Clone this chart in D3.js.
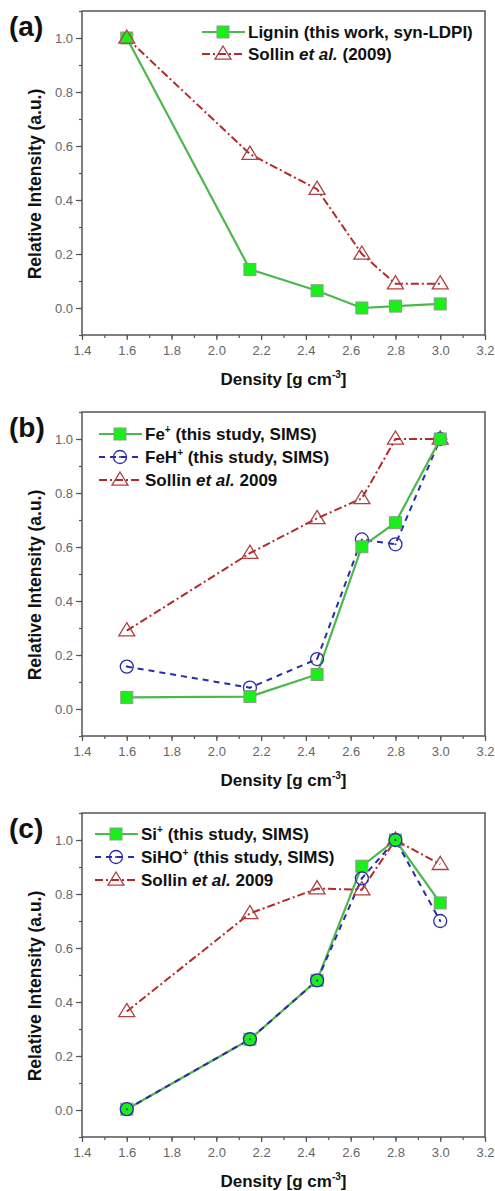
<!DOCTYPE html>
<html><head><meta charset="utf-8">
<script src="https://cdn.jsdelivr.net/npm/d3@7"></script>
<style>body{margin:0;background:#fff;} svg{display:block;font-family:"Liberation Sans",Arial,sans-serif;}</style>
</head><body>
<svg id="c" width="495" height="1191"></svg>
<script>
const density = [1.6, 2.15, 2.45, 2.65, 2.8, 3.0];
const xTicks = [1.4, 1.6, 1.8, 2.0, 2.2, 2.4, 2.6, 2.8, 3.0, 3.2];
const yTicks = [0.0, 0.2, 0.4, 0.6, 0.8, 1.0];

const ligninA = [1.0, 0.143, 0.064, 0.0, 0.007, 0.015];
const sollinA = [1.0, 0.57, 0.44, 0.20, 0.09, 0.09];

const feB = [0.043, 0.046, 0.128, 0.601, 0.69, 1.0];
const fehB = [0.157, 0.079, 0.185, 0.628, 0.61, 1.0];
const sollinB = [0.29, 0.577, 0.706, 0.78, 1.0, 1.0];

const siC = [0.003, 0.262, 0.48, 0.903, 1.0, 0.767];
const sihoC = [0.003, 0.262, 0.48, 0.858, 1.0, 0.70];
const sollinC = [0.365, 0.728, 0.82, 0.816, 1.0, 0.91];

const svg = d3.select("#c");
const GREEN_LINE = "#4cb84c", GREEN_FILL = "#19f019", RED = "#b22a2a", RED_MK = "#b04040", BLUE = "#2b2ba8", AXIS = "#555";

const styles = {
  green: {stroke: GREEN_LINE, dash: null, width: 2.2, marker: "square"},
  blue: {stroke: BLUE, dash: "6,5", width: 2, marker: "circle"},
  red: {stroke: RED, dash: "8,3,2,3", width: 2, marker: "triangle"}
};

function marker(g, type, x, y) {
  if (type === "square") {
    g.append("rect").attr("x", x - 6).attr("y", y - 6).attr("width", 12).attr("height", 12)
      .attr("fill", GREEN_FILL).attr("stroke", "#8a9a8a").attr("stroke-width", 1);
  } else if (type === "circle") {
    g.append("circle").attr("cx", x).attr("cy", y).attr("r", 6.5).attr("fill", "none")
      .attr("stroke", BLUE).attr("stroke-width", 1.3);
    g.append("circle").attr("cx", x).attr("cy", y).attr("r", 1).attr("fill", BLUE);
  } else {
    const s = 8;
    g.append("path").attr("d", `M${x},${y - s}L${x + s},${y + s * 0.65}L${x - s},${y + s * 0.65}Z`)
      .attr("fill", "none").attr("stroke", RED_MK).attr("stroke-width", 1.3);
  }
}

function panel(top, label, series, legend) {
  const left = 82, right = 485, h = 324;
  const x = d3.scaleLinear().domain([1.4, 3.2]).range([left, right]);
  const y = d3.scaleLinear().domain([-0.1, 1.1]).range([top + h, top]);
  const g = svg.append("g");

  const xMinor = d3.range(14, 33).map(v => v / 10);
  const yMinor = d3.range(-1, 12).map(v => v / 10);

  const xa = g.append("g").attr("transform", `translate(0,${top + h})`)
    .call(d3.axisBottom(x).tickValues(xMinor).tickSize(3).tickFormat(""));
  xa.select(".domain").remove();
  xa.selectAll("line").attr("stroke", AXIS).attr("stroke-width", 1.2);
  const xb = g.append("g").attr("transform", `translate(0,${top + h})`)
    .call(d3.axisBottom(x).tickValues(xTicks).tickSize(5).tickPadding(6).tickFormat(d3.format(".1f")));
  xb.select(".domain").remove();
  xb.selectAll("line").attr("stroke", AXIS).attr("stroke-width", 1.2);
  xb.selectAll("text").attr("fill", "#666").style("font-size", "13px");

  const ya = g.append("g").attr("transform", `translate(${left},0)`)
    .call(d3.axisLeft(y).tickValues(yMinor).tickSize(3).tickFormat(""));
  ya.select(".domain").remove();
  ya.selectAll("line").attr("stroke", AXIS).attr("stroke-width", 1.2);
  const yb = g.append("g").attr("transform", `translate(${left},0)`)
    .call(d3.axisLeft(y).tickValues(yTicks).tickSize(6).tickPadding(3).tickFormat(d3.format(".1f")));
  yb.select(".domain").remove();
  yb.selectAll("line").attr("stroke", AXIS).attr("stroke-width", 1.2);
  yb.selectAll("text").attr("fill", "#666").style("font-size", "13px");

  g.append("rect").attr("x", left).attr("y", top).attr("width", right - left).attr("height", h)
    .attr("fill", "none").attr("stroke", AXIS).attr("stroke-width", 1.5);

  // titles
  const xt = g.append("text").attr("x", (left + right) / 2).attr("y", top + h + 50)
    .attr("text-anchor", "middle").style("font-size", "17px").style("font-weight", "bold").attr("fill", "#111");
  xt.append("tspan").text("Density [g cm");
  xt.append("tspan").text("-3").attr("dy", -7).style("font-size", "10px");
  xt.append("tspan").text("]").attr("dy", 7);

  g.append("text").attr("transform", `translate(41,${top + h / 2 + 11}) rotate(-90)`)
    .attr("text-anchor", "middle").style("font-size", "17.5px").style("font-weight", "bold").attr("fill", "#111")
    .text("Relative Intensity (a.u.)");

  g.append("text").attr("x", 9).attr("y", top + 25).style("font-size", "28px").style("font-weight", "bold")
    .attr("fill", "#111").text(label);

  const line = d3.line().x((d, i) => x(density[i])).y(d => y(d));
  series.forEach(s => {
    const st = styles[s.style];
    g.append("path").datum(s.values).attr("d", line).attr("fill", "none")
      .attr("stroke", st.stroke).attr("stroke-width", st.width).attr("stroke-dasharray", st.dash);
  });
  series.forEach(s => {
    const st = styles[s.style];
    s.values.forEach((v, i) => marker(g, st.marker, x(density[i]), y(v)));
  });

  // legend
  legend.rows.forEach((r, i) => {
    const ly = top + legend.y0 + i * legend.dy;
    const st = styles[r.style];
    g.append("line").attr("x1", legend.x0).attr("x2", legend.x0 + 43).attr("y1", ly).attr("y2", ly)
      .attr("stroke", st.stroke).attr("stroke-width", st.width).attr("stroke-dasharray", st.dash);
    marker(g, st.marker, legend.x0 + 21, ly);
    const t = g.append("text").attr("x", legend.x0 + 46).attr("y", ly + 6)
      .style("font-size", "17px").style("font-weight", "bold").attr("fill", "#111");
    r.parts.forEach(p => {
      const ts = t.append("tspan").text(p.t);
      if (p.i) ts.style("font-style", "italic");
      if (p.sup) ts.attr("dy", -7).style("font-size", "10px");
      if (p.down) ts.attr("dy", 7);
    });
  });
}

panel(11, "(a)", [
  {style: "green", values: ligninA},
  {style: "red", values: sollinA}
], {x0: 202, y0: 21, dy: 22, rows: [
  {style: "green", parts: [{t: "Lignin (this work, syn-LDPI)"}]},
  {style: "red", parts: [{t: "Sollin "}, {t: "et al.", i: true}, {t: " (2009)"}]}
]});

panel(412, "(b)", [
  {style: "red", values: sollinB},
  {style: "blue", values: fehB},
  {style: "green", values: feB}
], {x0: 99, y0: 22, dy: 23, rows: [
  {style: "green", parts: [{t: "Fe"}, {t: "+", sup: true}, {t: " (this study, SIMS)", down: true}]},
  {style: "blue", parts: [{t: "FeH"}, {t: "+", sup: true}, {t: " (this study, SIMS)", down: true}]},
  {style: "red", parts: [{t: "Sollin "}, {t: "et al.", i: true}, {t: " 2009"}]}
]});

panel(813, "(c)", [
  {style: "red", values: sollinC},
  {style: "green", values: siC},
  {style: "blue", values: sihoC}
], {x0: 95, y0: 21, dy: 23, rows: [
  {style: "green", parts: [{t: "Si"}, {t: "+", sup: true}, {t: " (this study, SIMS)", down: true}]},
  {style: "blue", parts: [{t: "SiHO"}, {t: "+", sup: true}, {t: " (this study, SIMS)", down: true}]},
  {style: "red", parts: [{t: "Sollin "}, {t: "et al.", i: true}, {t: " 2009"}]}
]});
</script>
</body></html>
